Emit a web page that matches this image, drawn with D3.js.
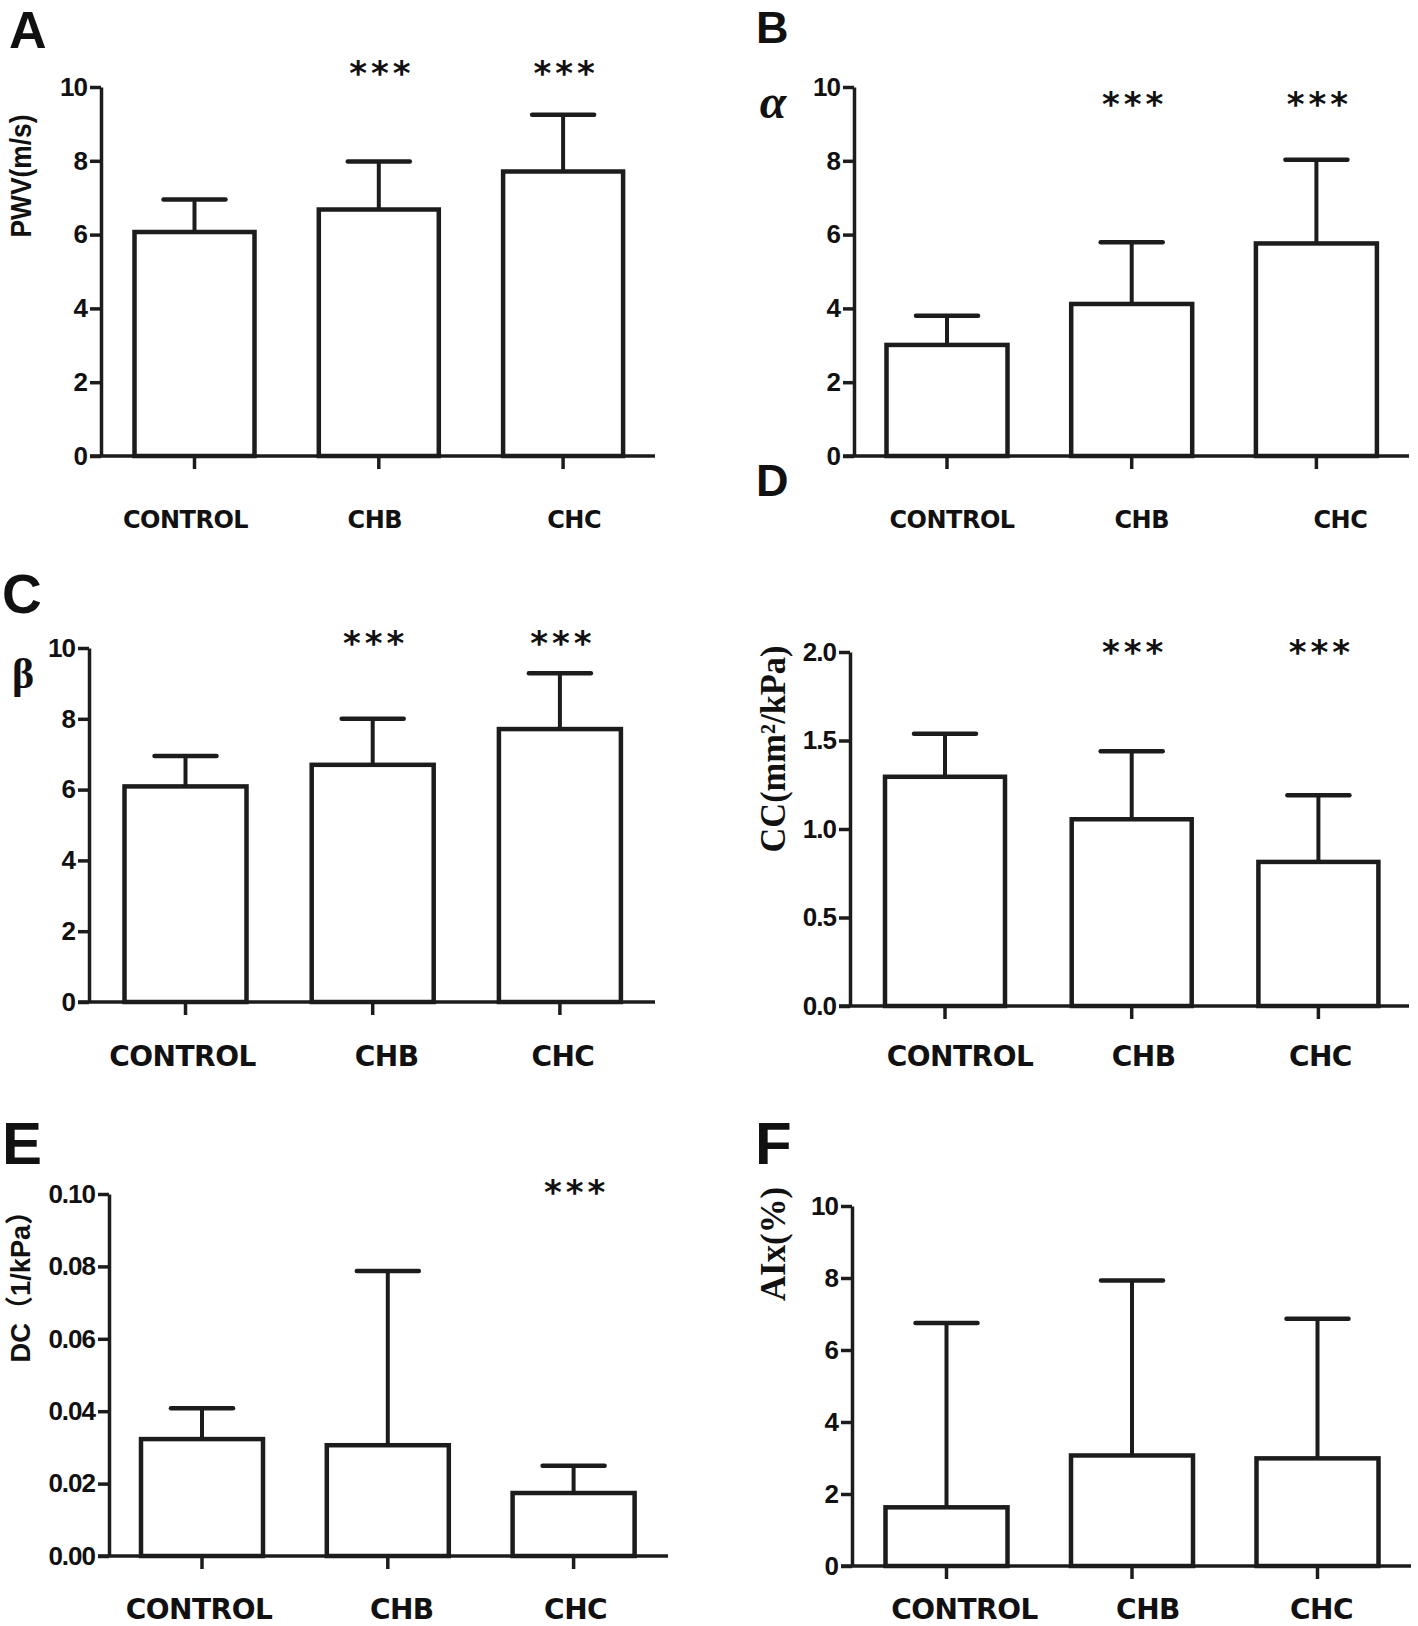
<!DOCTYPE html>
<html lang="en">
<head>
  <meta charset="UTF-8">
  <title>Arterial stiffness by group</title>
  <script src="https://d3js.org/d3.v7.min.js"></script>
  <style>
    body { margin: 0; background: white; }
    svg text { fill: #111; }
    .tick text { font-family: "Liberation Sans", Arial, sans-serif; font-weight: bold; font-size: 26px; letter-spacing: -1px; }
    .cat { font-family: "DejaVu Sans", sans-serif; font-weight: bold; }
    .stars { font-family: "DejaVu Sans", sans-serif; font-weight: bold; font-size: 34px; letter-spacing: 4px; }
    .letter { font-family: "Liberation Sans", Arial, sans-serif; font-weight: bold; }
  </style>
</head>
<body>
  <svg id="fig" width="1418" height="1626"></svg>

  <script>
    // groups on the x axis
    const groups = ["CONTROL", "CHB", "CHC"];

    // means and SD
    const pwvMean = [6.07, 6.68, 7.71];
    const pwvSD = [0.88, 1.30, 1.54];
    const alphaMean = [3.01, 4.12, 5.76];
    const alphaSD = [0.79, 1.67, 2.27];
    const betaMean = [6.09, 6.70, 7.71];
    const betaSD = [0.86, 1.30, 1.58];
    const ccMean = [1.295, 1.055, 0.814];
    const ccSD = [0.243, 0.384, 0.376];
    const dcMean = [0.0323, 0.0306, 0.0174];
    const dcSD = [0.0085, 0.0481, 0.0075];
    const aixMean = [1.63, 3.07, 2.99];
    const aixSD = [5.12, 4.86, 3.88];

    // significance marks
    const pwvSig = ["", "***", "***"];
    const alphaSig = ["", "***", "***"];
    const betaSig = ["", "***", "***"];
    const ccSig = ["", "***", "***"];
    const dcSig = ["", "", "***"];
    const aixSig = ["", "", ""];

    // tick values
    const ticks10 = [0, 2, 4, 6, 8, 10];
    const ccTicks = [0, 0.5, 1.0, 1.5, 2.0];
    const dcTicks = [0, 0.02, 0.04, 0.06, 0.08, 0.10];

    const ink = "#1c1c1c";
    const svg = d3.select("#fig");

    const panels = [
      { letter: "A", lx: 9, ly: 48, lsize: 52,
        mean: pwvMean, sd: pwvSD, sig: pwvSig, max: 10, ticks: ticks10, fmt: d3.format("d"),
        axisX: 101, xEnd: 655, yTop: 87, y0: 456, c0: 194.5, step: 184.3, bw: 124,
        starY: 64, catSize: 24, catY: 528, catDx: [-9, -4, 11],
        ylab: { text: "PWV(m/s)", x: 31, y: 176, rot: true, len: 123,
                font: "'Liberation Sans Narrow', 'Liberation Sans', sans-serif", weight: "bold", size: 30 } },
      { letter: "B", lx: 756, ly: 43, lsize: 45,
        mean: alphaMean, sd: alphaSD, sig: alphaSig, max: 10, ticks: ticks10, fmt: d3.format("d"),
        axisX: 854, xEnd: 1409, yTop: 87, y0: 456, c0: 947, step: 184.7, bw: 125,
        starY: 95, catSize: 24, catY: 528, catDx: [5, 10, 24],
        ylab: { text: "α", x: 773, y: 118, rot: false,
                font: "'Liberation Serif', serif", weight: "bold", style: "italic", size: 48 } },
      { letter: "C", lx: 2, ly: 613, lsize: 55,
        mean: betaMean, sd: betaSD, sig: betaSig, max: 10, ticks: ticks10, fmt: d3.format("d"),
        axisX: 89, xEnd: 655, yTop: 648, y0: 1002, c0: 185.5, step: 187.2, bw: 126,
        starY: 634, catSize: 28, catY: 1066, catDx: [-3, 14, 3],
        ylab: { text: "β", x: 23, y: 688, rot: false,
                font: "'Liberation Serif', serif", weight: "bold", size: 42 } },
      { letter: "D", lx: 756, ly: 496, lsize: 45,
        mean: ccMean, sd: ccSD, sig: ccSig, max: 2, ticks: ccTicks, fmt: d3.format(".1f"),
        axisX: 850, xEnd: 1409, yTop: 652, y0: 1006, c0: 945, step: 186.7, bw: 124,
        starY: 643, catSize: 28, catY: 1066, catDx: [15, 12, 2],
        ylab: { text: "CC(mm²/kPa)", x: 785, y: 749, rot: true, len: 207,
                font: "'Liberation Serif', serif", weight: "bold", size: 35 } },
      { letter: "E", lx: 2, ly: 1164, lsize: 60,
        mean: dcMean, sd: dcSD, sig: dcSig, max: 0.10, ticks: dcTicks, fmt: d3.format(".2f"),
        axisX: 109, xEnd: 668, yTop: 1194, y0: 1556, c0: 202, step: 185.8, bw: 126,
        starY: 1183, catSize: 28, catY: 1619, catDx: [-3, 14, 2],
        ylab: { text: "DC（1/kPa）", x: 30, y: 1280, rot: true, len: 165,
                font: "'Liberation Sans', 'Noto Sans CJK SC', sans-serif", weight: "bold", size: 28 } },
      { letter: "F", lx: 755, ly: 1164, lsize: 60,
        mean: aixMean, sd: aixSD, sig: aixSig, max: 10, ticks: ticks10, fmt: d3.format("d"),
        axisX: 852, xEnd: 1411, yTop: 1206, y0: 1566, c0: 946.5, step: 185.5, bw: 126,
        starY: 0, catSize: 28, catY: 1619, catDx: [18, 16, 4],
        ylab: { text: "AIx(%)", x: 785, y: 1244, rot: true, len: 114,
                font: "'Liberation Serif', serif", weight: "bold", size: 35 } }
    ];

    panels.forEach(p => {
      const g = svg.append("g");
      const pad = 1 - p.bw / p.step;

      const x = d3.scaleBand()
        .domain(groups)
        .range([p.c0 - p.step / 2, p.c0 + 2.5 * p.step])
        .paddingInner(pad)
        .paddingOuter(pad / 2);

      const y = d3.scaleLinear().domain([0, p.max]).range([p.y0, p.yTop]);

      const rows = groups.map((k, i) => ({ key: k, mean: p.mean[i], sd: p.sd[i], sig: p.sig[i], dx: p.catDx[i] }));

      // bars
      g.selectAll("rect.bar")
        .data(rows)
        .enter().append("rect")
        .attr("class", "bar")
        .attr("x", d => x(d.key) + 2)
        .attr("width", x.bandwidth() - 4)
        .attr("y", d => y(d.mean))
        .attr("height", d => p.y0 - y(d.mean))
        .attr("fill", "white")
        .attr("stroke", ink)
        .attr("stroke-width", 4.5);

      // error bars (upper only)
      const cx = d => x(d.key) + x.bandwidth() / 2;
      g.selectAll("line.err")
        .data(rows)
        .enter().append("line")
        .attr("x1", cx).attr("x2", cx)
        .attr("y1", d => y(d.mean))
        .attr("y2", d => y(d.mean + d.sd))
        .attr("stroke", ink).attr("stroke-width", 4);

      g.selectAll("line.cap")
        .data(rows)
        .enter().append("line")
        .attr("x1", d => cx(d) - 31).attr("x2", d => cx(d) + 31)
        .attr("y1", d => y(d.mean + d.sd))
        .attr("y2", d => y(d.mean + d.sd))
        .attr("stroke", ink).attr("stroke-width", 4.5)
        .attr("stroke-linecap", "round");

      // y axis
      const yAxis = g.append("g")
        .attr("transform", `translate(${p.axisX},0)`)
        .call(d3.axisLeft(y).tickValues(p.ticks).tickFormat(p.fmt).tickSize(11).tickPadding(3).tickSizeOuter(0));
      yAxis.select(".domain").attr("stroke", ink).attr("stroke-width", 3.5);
      yAxis.selectAll(".tick line").attr("stroke", ink).attr("stroke-width", 3.5);
      yAxis.selectAll(".tick text").attr("fill", "#111");

      // x axis line
      g.append("line")
        .attr("x1", p.axisX - 11).attr("x2", p.xEnd)
        .attr("y1", p.y0).attr("y2", p.y0)
        .attr("stroke", ink).attr("stroke-width", 3.5);

      const xAxis = g.append("g")
        .attr("transform", `translate(0,${p.y0})`)
        .call(d3.axisBottom(x).tickSize(13).tickFormat(""));
      xAxis.select(".domain").remove();
      xAxis.selectAll(".tick line").attr("stroke", ink).attr("stroke-width", 3.5);

      // group labels
      g.selectAll("text.cat")
        .data(rows)
        .enter().append("text")
        .attr("class", "cat")
        .attr("x", d => cx(d) + d.dx)
        .attr("y", p.catY)
        .attr("text-anchor", "middle")
        .style("font-size", p.catSize + "px")
        .style("letter-spacing", "-0.5px")
        .text(d => d.key);

      // significance stars
      g.selectAll("text.stars")
        .data(rows.filter(d => d.sig))
        .enter().append("text")
        .attr("class", "stars")
        .attr("x", d => cx(d) + 3)
        .attr("y", p.starY + 21)
        .attr("text-anchor", "middle")
        .text(d => d.sig);

      // y label
      const yl = p.ylab;
      const t = g.append("text")
        .attr("text-anchor", "middle")
        .style("font-family", yl.font)
        .style("font-weight", yl.weight)
        .style("font-style", yl.style || "normal")
        .style("font-size", yl.size + "px")
        .text(yl.text);
      if (yl.rot) {
        t.attr("transform", `translate(${yl.x},${yl.y}) rotate(-90)`)
          .attr("textLength", yl.len)
          .attr("lengthAdjust", "spacingAndGlyphs");
      } else {
        t.attr("x", yl.x).attr("y", yl.y);
      }

      // panel letter
      g.append("text")
        .attr("class", "letter")
        .attr("x", p.lx).attr("y", p.ly)
        .style("font-size", p.lsize + "px")
        .text(p.letter);
    });
  </script>
</body>
</html>
